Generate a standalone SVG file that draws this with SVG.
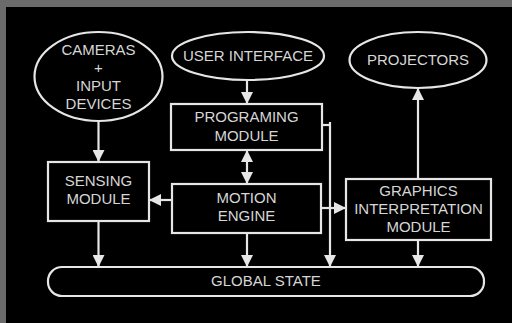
<svg xmlns="http://www.w3.org/2000/svg" width="512" height="323" viewBox="0 0 512 323">
<defs>
<style>
.shape{fill:none;stroke:#e6e6e6;stroke-width:2.2}
.line{fill:none;stroke:#e6e6e6;stroke-width:2.2}
text{font-family:"Liberation Sans",Arial,sans-serif;font-size:15px;fill:#d6d6d6;text-anchor:middle}
</style>
<marker id="ah" viewBox="0 0 12 12" refX="11" refY="6" markerWidth="12" markerHeight="12" markerUnits="userSpaceOnUse" orient="auto-start-reverse">
<path d="M0,0 L12,6 L0,12 Z" fill="#e6e6e6"/>
</marker>
</defs>
<rect x="0" y="0" width="512" height="323" fill="#6b6b6b"/>
<rect x="6" y="7" width="506" height="316" fill="#000"/>
<g id="cameras">
<ellipse class="shape" cx="98.5" cy="76.5" rx="64" ry="44.5"/>
<text x="98.5" y="55">CAMERAS</text>
<text x="98.5" y="73">+</text>
<text x="98.5" y="91">INPUT</text>
<text x="98.5" y="109">DEVICES</text>
</g>
<g id="user-interface">
<ellipse class="shape" cx="248" cy="56" rx="76" ry="24"/>
<text x="248" y="61">USER INTERFACE</text>
</g>
<g id="projectors">
<ellipse class="shape" cx="418" cy="60" rx="68.5" ry="28"/>
<text x="418" y="65">PROJECTORS</text>
</g>
<g id="programing-module">
<rect class="shape" x="171" y="104" width="151" height="46"/>
<text x="246.5" y="122">PROGRAMING</text>
<text x="246.5" y="141">MODULE</text>
</g>
<g id="sensing-module">
<rect class="shape" x="48" y="162" width="101" height="59"/>
<text x="98.5" y="186">SENSING</text>
<text x="98.5" y="204">MODULE</text>
</g>
<g id="motion-engine">
<rect class="shape" x="172" y="184" width="149" height="49"/>
<text x="246.5" y="203">MOTION</text>
<text x="246.5" y="221">ENGINE</text>
</g>
<g id="graphics-module">
<rect class="shape" x="346" y="179" width="145" height="61"/>
<text x="418.5" y="196">GRAPHICS</text>
<text x="418.5" y="214">INTERPRETATION</text>
<text x="418.5" y="232">MODULE</text>
</g>
<g id="global-state">
<rect class="shape" x="48" y="267" width="436" height="29" rx="14" ry="14"/>
<text x="266" y="286">GLOBAL STATE</text>
</g>
<g id="connectors">
<line class="line" x1="247" y1="80" x2="247" y2="103" marker-end="url(#ah)"/>
<line class="line" x1="98.5" y1="121" x2="98.5" y2="161" marker-end="url(#ah)"/>
<line class="line" x1="247" y1="151" x2="247" y2="183" marker-start="url(#ah)" marker-end="url(#ah)"/>
<line class="line" x1="172" y1="200" x2="150" y2="200" marker-end="url(#ah)"/>
<line class="line" x1="321" y1="208" x2="345" y2="208" marker-end="url(#ah)"/>
<polyline class="line" points="322,125 330,125"/>
<line class="line" x1="330" y1="122" x2="330" y2="266" marker-end="url(#ah)"/>
<line class="line" x1="418" y1="179" x2="418" y2="89" marker-end="url(#ah)"/>
<line class="line" x1="98.5" y1="221" x2="98.5" y2="266" marker-end="url(#ah)"/>
<line class="line" x1="247" y1="233" x2="247" y2="266" marker-end="url(#ah)"/>
<line class="line" x1="418" y1="240" x2="418" y2="266" marker-end="url(#ah)"/>
</g>
</svg>
